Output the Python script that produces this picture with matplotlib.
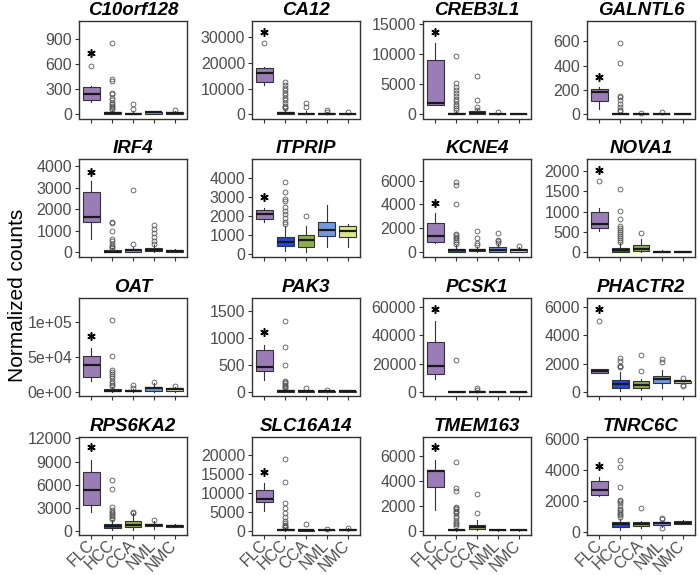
import numpy as np
import matplotlib.pyplot as plt

plt.rcParams['font.family'] = ['Liberation Sans', 'DejaVu Sans']

genes = ['C10orf128', 'CA12', 'CREB3L1', 'GALNTL6',
         'IRF4', 'ITPRIP', 'KCNE4', 'NOVA1',
         'OAT', 'PAK3', 'PCSK1', 'PHACTR2',
         'RPS6KA2', 'SLC16A14', 'TMEM163', 'TNRC6C']
groups = ['FLC', 'HCC', 'CCA', 'NML', 'NMC']
colors = ['#9a7cb6', '#2446e0', '#8db04a', '#6f99e0', '#d9e98c']

# box stats, one row per gene, one column per group
whisk_lo = [
    [152, 0, 0, 0, 0], [11430, 0, 0, 0, 0], [1550, 0, 0, 0, 0], [49, 0, 0, 0, 0],
    [615, 0, 0, 0, 0], [1710, 170, 140, 390, 390], [775, 0, 30, 0, 0], [510, 0, 0, 0, 0],
    [14800, 0, 0, 0, 0], [222, 0, 0, 0, 0], [9440, 0, 0, 0, 0], [1320, 50, 120, 240, 640],
    [2450, 130, 215, 340, 500], [5090, 0, 0, 0, 0], [1630, 0, 50, 0, 0], [2360, 170, 260, 320, 510]]
q1 = [
    [172, 5, 3, 10, 8], [12470, 200, 100, 50, 50], [1550, 20, 50, 10, 10], [110, 0, 0, 1, 0],
    [1385, 10, 20, 40, 10], [1850, 440, 390, 940, 900], [830, 50, 100, 50, 50], [585, 10, 20, 5, 5],
    [21500, 300, 200, 1500, 1500], [389, 0, 0, 0, 0], [12740, 0, 0, 0, 0], [1320, 280, 240, 640, 640],
    [3440, 430, 560, 645, 560], [7450, 30, 0, 20, 100], [3470, 5, 130, 10, 5], [2420, 320, 390, 490, 510]]
median = [
    [240, 15, 10, 25, 15], [16230, 600, 300, 200, 150], [1830, 100, 250, 60, 40], [181, 2, 1, 3, 1],
    [1660, 30, 90, 120, 40], [2100, 650, 770, 1300, 1200], [1330, 150, 200, 200, 150], [700, 50, 90, 15, 12],
    [38760, 1500, 800, 5000, 3000], [450, 5, 5, 3, 2], [18170, 50, 100, 50, 40], [1490, 590, 470, 920, 750],
    [5330, 730, 860, 820, 690], [8420, 100, 40, 80, 200], [4750, 30, 290, 30, 20], [2700, 540, 540, 600, 600]]
q3 = [
    [324, 25, 20, 35, 25], [18180, 1100, 600, 400, 300], [9030, 280, 500, 150, 100], [205, 6, 3, 8, 3],
    [2800, 80, 150, 200, 100], [2310, 890, 1030, 1710, 1470], [2410, 300, 300, 400, 250], [1000, 100, 180, 30, 25],
    [51700, 3000, 2000, 7000, 4500], [777, 20, 15, 10, 5], [35160, 300, 500, 200, 200], [1630, 830, 750, 1130, 800],
    [7610, 990, 1290, 990, 820], [10610, 300, 100, 200, 400], [4880, 80, 480, 60, 50], [3320, 640, 660, 660, 690]]
whisk_hi = [
    [344, 55, 40, 45, 40], [18570, 2000, 1200, 800, 600], [11900, 600, 900, 300, 200], [222, 14, 6, 15, 6],
    [3310, 180, 250, 350, 130], [2450, 1500, 1470, 2620, 1590], [3240, 600, 450, 700, 400], [1080, 220, 330, 50, 40],
    [62700, 6000, 4000, 12000, 6500], [876, 40, 30, 15, 8], [50500, 600, 1000, 400, 400], [1650, 1400, 940, 1580, 850],
    [9245, 1420, 2370, 1290, 900], [12540, 700, 200, 350, 600], [5680, 180, 830, 120, 100], [3560, 880, 710, 750, 770]]
fliers = [
    [[584], [854, 420, 400, 260, 250, 200, 170, 140, 120, 100, 85, 70, 60], [120, 60], [], [50]],
    [[27900], [12500, 11500, 10500, 9500, 8500, 7500, 6500, 5500, 4500, 3500, 3000, 2500], [4300, 3000], [1600, 1000], [900]],
    [[], [9700, 5300, 4500, 4000, 3500, 3000, 2600, 2200, 1800, 1400, 1000, 700], [6400, 2400, 1200, 800], [350], []],
    [[], [585, 420, 155, 140, 115, 85, 60, 40, 25], [12], [20], []],
    [[], [1400, 1350, 1000, 600, 500, 400, 300, 250, 200], [2900, 400], [1250, 1100, 900, 700, 500, 400], []],
    [[], [3800, 3300, 2900, 2800, 2500, 2300, 2100, 1900, 1700, 1600], [2000], [], []],
    [[], [5900, 5600, 4000, 1500, 1400, 1300, 1200, 1000, 850, 700], [1800, 1200, 800, 600], [1600, 1000, 900, 800], [500]],
    [[1750], [1560, 1020, 820, 650, 600, 550, 500, 450, 400, 350, 300, 250], [470], [], []],
    [[], [103000, 52000, 31000, 28000, 25000, 22000, 19000, 16000, 13000, 10000, 8000], [10000, 4500], [14000], [8000]],
    [[], [1320, 840, 490, 200, 170, 150, 120, 100, 80, 60], [60], [20], []],
    [[], [22600], [2400, 1500], [], []],
    [[5000], [2400, 2200, 1850, 1800, 1750], [2600, 1500], [2300, 2100], [1000, 500, 400]],
    [[], [6600, 5500, 3100, 2800, 2500, 2300, 2100, 1900, 1700, 1600], [2500, 2400], [1500], []],
    [[], [18800, 12800, 7200, 6000, 4500, 3500, 2500, 2000, 1500, 1200, 1000, 800], [1700], [400], [700]],
    [[], [5500, 3400, 3200, 1900, 1800, 1700, 1600, 1500, 1400, 1200, 1000, 800, 600, 500, 400], [2900, 1400], [], []],
    [[], [4650, 4200, 2900, 2100, 2000, 1900, 1700, 1500, 1400, 1300, 1200, 1100, 1000], [1550], [900, 850, 250], []]]
star_y = [740, 31950, 13630, 304, 3740, 3040, 4150, 2025,
          80400, 1110, 59000, 5900, 10840, 15350, 6670, 4240]

y_limits = [(-48, 1120), (-1560, 36400), (-665, 15500), (-33, 767),
            (-200, 4340), (-120, 5020), (-360, 7800), (-105, 2290),
            (-5700, 135400), (-74, 1746), (-2600, 66600), (-260, 6660),
            (-430, 12170), (-1050, 24640), (-320, 7490), (-150, 6130)]
y_ticks = [[0, 300, 600, 900], [0, 10000, 20000, 30000], [0, 5000, 10000, 15000], [0, 200, 400, 600],
           [0, 1000, 2000, 3000, 4000], [0, 1000, 2000, 3000, 4000], [0, 2000, 4000, 6000], [0, 500, 1000, 1500, 2000],
           [0, 50000, 100000], [0, 500, 1000, 1500], [0, 20000, 40000, 60000], [0, 2000, 4000, 6000],
           [0, 3000, 6000, 9000, 12000], [0, 5000, 10000, 15000, 20000], [0, 2000, 4000, 6000], [0, 2000, 4000, 6000]]
oat_labels = ['0e+00', '5e+04', '1e+05']

W, H = 700, 575
col_left = [79, 252, 423, 587]
row_top = [21, 159, 298, 437]
ax_w, ax_h = 108, 97.5

fig = plt.figure(figsize=(7, 5.75), dpi=100)
grey = '#4d4d4d'

for i, g in enumerate(genes):
    r, c = divmod(i, 4)
    ax = fig.add_axes([col_left[c] / W, 1 - (row_top[r] + ax_h) / H, ax_w / W, ax_h / H])
    stats = []
    for j in range(5):
        stats.append(dict(whislo=whisk_lo[i][j], q1=q1[i][j], med=median[i][j],
                          q3=q3[i][j], whishi=whisk_hi[i][j], fliers=fliers[i][j]))
    bp = ax.bxp(stats, positions=range(1, 6), widths=0.8, patch_artist=True,
                showcaps=False,
                boxprops=dict(edgecolor='#333333', linewidth=0.8),
                whiskerprops=dict(color='#333333', linewidth=0.8),
                medianprops=dict(color='#1a1a1a', linewidth=1.6),
                flierprops=dict(marker='o', markerfacecolor='none', markeredgecolor='#555555',
                                markersize=3.5, markeredgewidth=0.6))
    for patch, col in zip(bp['boxes'], colors):
        patch.set_facecolor(col)
    ax.plot(1, star_y[i], marker=(6, 2, 0), ms=6, mew=1.1, color='black')

    ax.set_xlim(0.4, 5.6)
    ax.set_ylim(*y_limits[i])
    ax.set_yticks(y_ticks[i])
    if g == 'OAT':
        ax.set_yticklabels(oat_labels)
    else:
        ax.set_yticklabels([str(t) for t in y_ticks[i]])
    ax.set_xticks(range(1, 6))
    ax.tick_params(axis='both', direction='out', length=3, width=0.8, colors='#333333',
                   labelcolor=grey, labelsize=11.5, pad=2)
    if r == 3:
        ax.set_xticklabels(groups, rotation=45, ha='right', va='center',
                           rotation_mode='anchor', fontsize=11.5, color=grey)
        ax.tick_params(axis='x', pad=3)
    else:
        ax.set_xticklabels([])
    for s in ax.spines.values():
        s.set_color('#333333')
        s.set_linewidth(1.0)
    ax.set_title(g, fontsize=13.5, fontweight='bold', fontstyle='italic', pad=4)

fig.text(18 / W, 1 - 295 / H, 'Normalized counts', rotation=90, ha='center', va='center',
         fontsize=15, color='black')

fig.savefig('out.png', dpi=100)
